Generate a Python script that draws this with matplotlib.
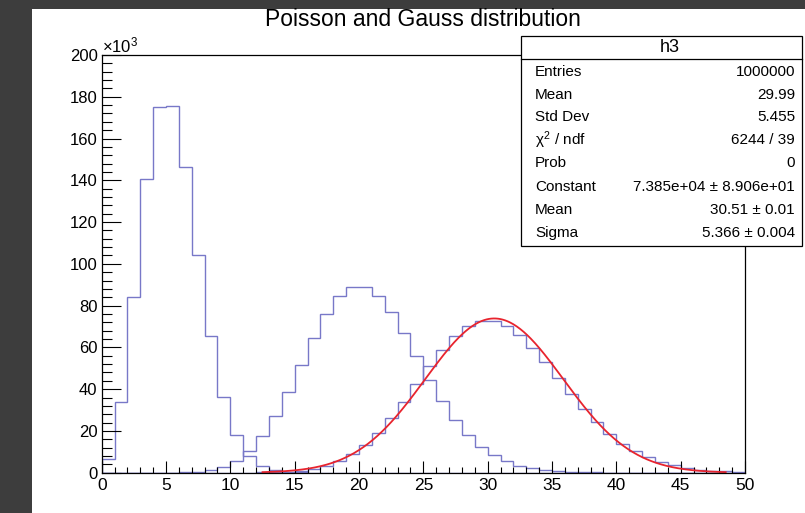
import numpy as np
import matplotlib
matplotlib.use("Agg")
import matplotlib.pyplot as plt
from matplotlib.patches import Rectangle
from matplotlib.ticker import MultipleLocator

plt.rcParams["font.family"] = ["Liberation Sans", "DejaVu Sans"]
plt.rcParams["mathtext.fontset"] = "custom"
plt.rcParams["mathtext.rm"] = "Liberation Sans"
plt.rcParams["mathtext.it"] = "Liberation Sans"

# bin contents in units of 10^3, bins of width 1 from 0 to 50
bin_edges = np.arange(0, 51)
h1 = [6.7, 33.7, 84.2, 140.4, 175.3, 175.7, 146.2, 104.4, 65.3, 36.3,
      18.1, 8.2, 3.4, 1.3, 0.47, 0.16, 0.05, 0.015, 0.004, 0.001] + [0] * 30
h2 = [0, 0, 0, 0, 0, 0.055, 0.18, 0.52, 1.31, 2.91,
      5.82, 10.58, 17.63, 27.12, 38.74, 51.65, 64.57, 75.96, 84.40, 88.84,
      88.84, 84.61, 76.92, 66.89, 55.74, 44.59, 34.30, 25.41, 18.15, 12.52,
      8.34, 5.38, 3.36, 2.04, 1.20, 0.69, 0.38, 0.21, 0.11, 0.056,
      0.027, 0.013, 0.006, 0, 0, 0, 0, 0, 0, 0]
h3 = [0, 0, 0, 0, 0, 0, 0, 0, 0, 0,
      0, 0.042, 0.10, 0.24, 0.51, 1.03, 1.93, 3.40, 5.66, 8.94,
      13.41, 19.16, 26.12, 34.07, 42.59, 51.11, 58.98, 65.53, 70.21, 72.63,
      72.63, 70.29, 65.90, 59.91, 52.86, 45.31, 37.76, 30.61, 24.17, 18.59,
      13.94, 10.20, 7.29, 5.08, 3.47, 2.31, 1.51, 0.96, 0.60, 0.37]

# gaussian fit of h3
fit_const = 73.85
fit_mean = 30.51
fit_sigma = 5.366
fit_lo, fit_hi = 12.5, 48.5

stat_labels = ["Entries", "Mean", "Std Dev", r"$\chi^{2}$ / ndf", "Prob",
               "Constant", "Mean", "Sigma"]
stat_values = ["1000000", "29.99", "5.455", "6244 / 39", "0",
               "7.385e+04 \u00b1 8.906e+01", "30.51 \u00b1 0.01",
               "5.366 \u00b1 0.004"]

W, H = 805, 513
fig = plt.figure(figsize=(W / 100, H / 100), dpi=100)
fig.patch.set_facecolor("#3d3d3d")
fig.patches.append(Rectangle((32 / W, 0), 1 - 32 / W, 1 - 9 / H,
                             transform=fig.transFigure, facecolor="white",
                             edgecolor="none", zorder=-10))

ax = fig.add_axes([101.7 / W, 1 - 472.7 / H, (745 - 101.7) / W, (472.7 - 55) / H])
hcol = "#7878c8"
for h in (h1, h2, h3):
    ax.stairs(h, bin_edges, color=hcol, lw=1.0, baseline=0)

xf = np.linspace(fit_lo, fit_hi, 400)
yf = fit_const * np.exp(-0.5 * ((xf - fit_mean) / fit_sigma) ** 2)
ax.plot(xf, yf, color="#e8242e", lw=1.3)

ax.set_xlim(0, 50)
ax.set_ylim(0, 200)
ax.xaxis.set_major_locator(MultipleLocator(5))
ax.xaxis.set_minor_locator(MultipleLocator(1))
ax.yaxis.set_major_locator(MultipleLocator(20))
ax.yaxis.set_minor_locator(MultipleLocator(4))
ax.tick_params(axis="x", which="major", direction="in", length=8.8, width=0.8,
               labelsize=12.5, pad=4)
ax.tick_params(axis="x", which="minor", direction="in", length=4.4, width=0.8)
ax.tick_params(axis="y", which="major", direction="in", length=13.8, width=0.8,
               labelsize=12, pad=3)
ax.tick_params(axis="y", which="minor", direction="in", length=7.5, width=0.8)
for s in ax.spines.values():
    s.set_linewidth(0.9)
ax.text(0.0, 1.0, r"$\times10^{3}$", transform=ax.transAxes, fontsize=12,
        ha="left", va="bottom")

fig.text(423 / W, 1 - 20 / H, "Poisson and Gauss distribution", fontsize=16.5,
         ha="center", va="center")

# stats box
bx0, bx1, by0, by1 = 520.7, 801.7, 36, 246
fig.patches.append(Rectangle((bx0 / W, 1 - by1 / H), (bx1 - bx0) / W, (by1 - by0) / H,
                             transform=fig.transFigure, facecolor="white",
                             edgecolor="black", lw=0.9, zorder=5))
fig.add_artist(plt.Line2D([bx0 / W, bx1 / W], [1 - 59 / H, 1 - 59 / H],
                          color="black", lw=0.9, zorder=6))
fig.text(670 / W, 1 - 47.5 / H, "h3", fontsize=13, ha="center", va="center", zorder=7)
row_y = [72, 95, 117, 140, 163, 187, 210, 233]
for lab, val, yy in zip(stat_labels, stat_values, row_y):
    fig.text(535 / W, 1 - yy / H, lab, fontsize=11, ha="left", va="center", zorder=7)
    fig.text(795 / W, 1 - yy / H, val, fontsize=11, ha="right", va="center", zorder=7)

fig.savefig("out.png", dpi=100)
